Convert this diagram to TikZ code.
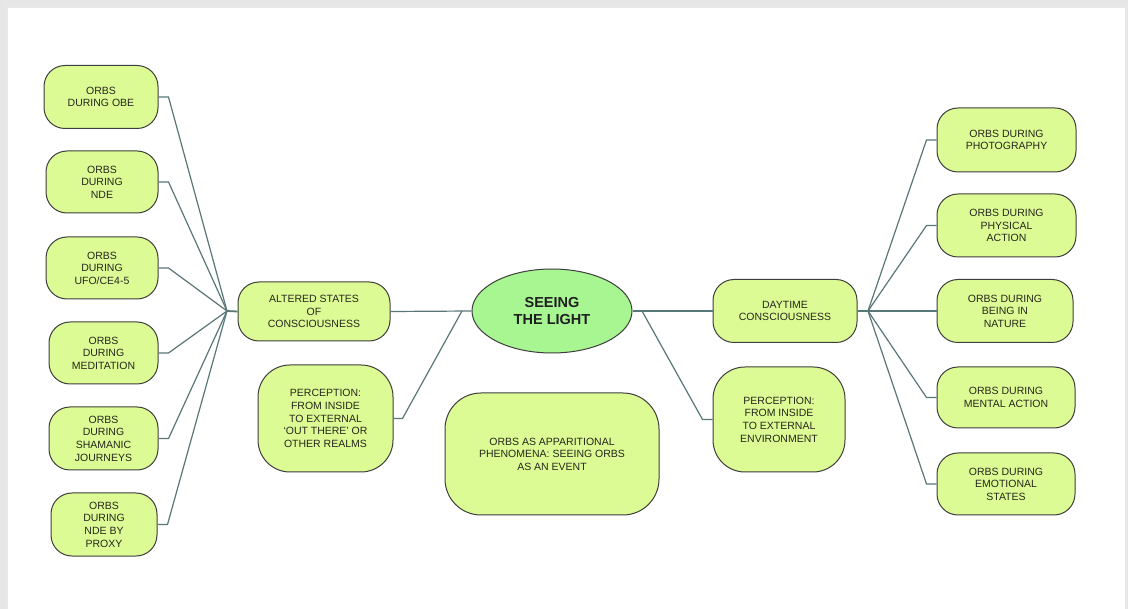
\documentclass[tikz,border=0pt]{standalone}
\usepackage{fontspec}
\setmainfont{Liberation Sans}
\usetikzlibrary{shapes.geometric,calc}
\definecolor{boxfill}{HTML}{DCFB94}
\definecolor{titlefill}{HTML}{A7F692}
\definecolor{boxline}{HTML}{3E3E3E}
\definecolor{linkc}{HTML}{5A7778}
\definecolor{txt}{HTML}{26261C}
\definecolor{pageedge}{HTML}{E6E6E6}
\begin{document}
\begin{tikzpicture}[x=1pt,y=-1pt,
  box/.style={draw=boxline, fill=boxfill, line width=1pt, rounded corners=21pt,
    align=center, inner sep=0pt, text=txt, font=\fontsize{10.5}{12.6}\selectfont},
  bigbox/.style={box, rounded corners=32pt},
  title/.style={ellipse, draw=boxline, fill=titlefill, line width=1pt, align=center,
    inner sep=0pt, text=black!88, font=\bfseries\fontsize{14.5}{17}\selectfont},
  link/.style={draw=linkc, line width=1.2pt}]
\useasboundingbox (0,0) rectangle (1128,609);
% page with soft edge
\fill[pageedge] (0,0) rectangle (1128,609);
\fill[black!9] (5,5) rectangle (1127,609);
\fill[white] (8,8) rectangle (1125,609);

% left branch
\node[box, minimum width=114, minimum height=63] (obe)   at (101,97)    {ORBS\\DURING OBE};
\node[box, minimum width=112, minimum height=62] (nde)   at (102,182)   {ORBS\\DURING\\NDE};
\node[box, minimum width=112, minimum height=62] (ufo)   at (102,268)   {ORBS\\DURING\\UFO/CE4-5};
\node[box, minimum width=109, minimum height=62] (med)   at (103.5,353) {ORBS\\DURING\\MEDITATION};
\node[box, minimum width=109, minimum height=63] (sham)  at (103.5,438.5) {ORBS\\DURING\\SHAMANIC\\JOURNEYS};
\node[box, minimum width=106, minimum height=63] (proxy) at (104,524.5) {ORBS\\DURING\\NDE BY\\PROXY};

\node[box, minimum width=152, minimum height=59] (alt)   at (314,311.5) {ALTERED STATES\\OF\\CONSCIOUSNESS};
\node[bigbox, minimum width=135, minimum height=107] (percl) at (325.5,418.5)
  {PERCEPTION:\\FROM INSIDE\\TO EXTERNAL\\`OUT THERE' OR\\OTHER REALMS};

% centre
\node[title, minimum width=160, minimum height=84] (core) at (552,311) {SEEING\\THE LIGHT};
\node[bigbox, rounded corners=36pt, minimum width=214, minimum height=122] (event) at (552,454)
  {ORBS AS APPARITIONAL\\PHENOMENA: SEEING ORBS\\AS AN EVENT};

% right branch
\node[box, minimum width=144, minimum height=63] (day)   at (785,311) {DAYTIME\\CONSCIOUSNESS};
\node[bigbox, minimum width=132, minimum height=105] (percr) at (779,419.5)
  {PERCEPTION:\\FROM INSIDE\\TO EXTERNAL\\ENVIRONMENT};

\node[box, minimum width=139, minimum height=64] (photo)  at (1006.5,140)   {ORBS DURING\\PHOTOGRAPHY};
\node[box, minimum width=139, minimum height=63] (phys)   at (1006.5,225.5) {ORBS DURING\\PHYSICAL\\ACTION};
\node[box, minimum width=136, minimum height=63] (nature) at (1005,311)     {ORBS DURING\\BEING IN\\NATURE};
\node[box, minimum width=138, minimum height=61] (mental) at (1006,397.5)   {ORBS DURING\\MENTAL ACTION};
\node[box, minimum width=138, minimum height=62] (emot)   at (1006,484)     {ORBS DURING\\EMOTIONAL\\STATES};

% junction points
\coordinate (hubl) at (227,311);
\coordinate (hubc) at (462,311);
\coordinate (hubd) at (642,311);
\coordinate (hubr) at (868,311);

% connectors
\begin{scope}[link]
  \foreach \n in {obe,nde,ufo,med,sham,proxy}
    \draw (\n.east) -- ++(10,0) -- (hubl);
  \draw[line width=1.8pt] (hubl) -- (alt.west);
  \draw (alt.east) -- (core.west);
  \draw (percl.east) -- ++(9,0) -- (hubc);
  \draw (core.east) -- (hubd) -- (day.west);
  \draw (hubd) -- ($(percr.west)+(-10,0)$) -- (percr.west);
  \draw[line width=1.8pt] (day.east) -- (hubr);
  \foreach \n in {photo,phys,nature,mental,emot}
    \draw (hubr) -- ($(\n.west)+(-10,0)$) -- (\n.west);
\end{scope}
\end{tikzpicture}
\end{document}
